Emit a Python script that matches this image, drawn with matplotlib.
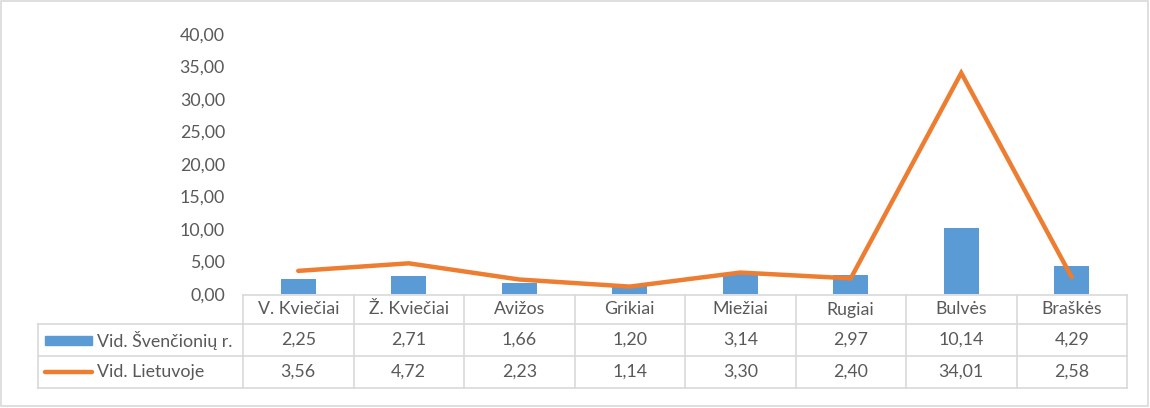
import matplotlib.pyplot as plt
from matplotlib.patches import Rectangle
from matplotlib.lines import Line2D

categories = ['V. Kviečiai', 'Ž. Kviečiai', 'Avižos', 'Grikiai', 'Miežiai', 'Rugiai', 'Bulvės', 'Braškės']
svencioniu = [2.25, 2.71, 1.66, 1.20, 3.14, 2.97, 10.14, 4.29]
lietuvoje = [3.56, 4.72, 2.23, 1.14, 3.30, 2.40, 34.01, 2.58]
series_names = ['Vid. Švenčionių r.', 'Vid. Lietuvoje']
yticks = [0, 5, 10, 15, 20, 25, 30, 35, 40]

plt.rcParams['font.family'] = ['Lato', 'DejaVu Sans']
txt = '#595959'
grid = '#d9d9d9'
blue = '#5B9BD5'
orange = '#ED7D31'

W, H = 1150, 408
fig = plt.figure(figsize=(W / 100, H / 100), dpi=100)
fig.patches.append(Rectangle((0.001, 0.005), 0.997, 0.993, transform=fig.transFigure,
                             fill=False, edgecolor=grid, lw=1.2))

x0, x1, ytop, ybot = 243, 1127, 34, 294
ax = fig.add_axes([x0 / W, (H - ybot) / H, (x1 - x0) / W, (ybot - ytop) / H])

xs = list(range(len(categories)))
ax.bar(xs, svencioniu, width=0.32, color=blue, zorder=2)
ax.plot(xs, lietuvoje, color=orange, lw=3.2, solid_capstyle='round', solid_joinstyle='miter', zorder=3)

fs = 12.8
ax.set_xlim(-0.5, len(categories) - 0.5)
ax.set_ylim(0, 40)
ax.set_yticks(yticks)
ax.set_yticklabels([f'{v:.2f}'.replace('.', ',') for v in yticks], color=txt, fontsize=fs)
ax.tick_params(axis='y', length=0, pad=13)
ax.set_xticks([])
for s in ax.spines.values():
    s.set_visible(False)


def fy(px):
    return (ybot - px) / (ybot - ytop)


trans = ax.get_xaxis_transform()
rows = [295, 324, 356, 388]
unit = (x1 - x0) / len(categories)
left = -0.5 - (x0 - 38) / unit
kw = dict(transform=trans, clip_on=False, color=grid, lw=1.2)

# horizontal lines
ax.add_line(Line2D([-0.5, 7.5], [fy(rows[0])] * 2, **kw))
for r in rows[1:]:
    ax.add_line(Line2D([left, 7.5], [fy(r)] * 2, **kw))
# vertical lines
ax.add_line(Line2D([left, left], [fy(rows[1]), fy(rows[3])], **kw))
for i in range(len(categories) + 1):
    ax.add_line(Line2D([i - 0.5, i - 0.5], [fy(rows[0]), fy(rows[3])], **kw))

mid = [fy((rows[i] + rows[i + 1]) / 2) for i in range(3)]
for i, c in enumerate(categories):
    ax.text(i, mid[0], c, transform=trans, ha='center', va='center', color=txt, fontsize=fs)
    ax.text(i, mid[1], f'{svencioniu[i]:.2f}'.replace('.', ','), transform=trans,
            ha='center', va='center', color=txt, fontsize=fs)
    ax.text(i, mid[2], f'{lietuvoje[i]:.2f}'.replace('.', ','), transform=trans,
            ha='center', va='center', color=txt, fontsize=fs)

# legend keys
kx0 = -0.5 - (x0 - 45) / unit
kx1 = -0.5 - (x0 - 92) / unit
ax.add_patch(Rectangle((kx0, fy(345)), kx1 - kx0, fy(336) - fy(345), transform=trans,
                       clip_on=False, color=blue))
ax.add_line(Line2D([kx0, kx1], [mid[2]] * 2, transform=trans, clip_on=False,
                   color=orange, lw=3.2, solid_capstyle='round'))
tx = -0.5 - (x0 - 97) / unit
ax.text(tx, mid[1], series_names[0], transform=trans, ha='left', va='center', color=txt, fontsize=fs)
ax.text(tx, mid[2], series_names[1], transform=trans, ha='left', va='center', color=txt, fontsize=fs)

fig.savefig('out.png', dpi=100)
